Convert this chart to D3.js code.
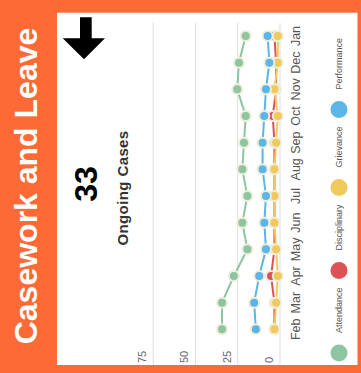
<!DOCTYPE html>
<html>
<head>
<meta charset="utf-8">
<script src="https://cdn.jsdelivr.net/npm/d3@7"></script>
<style>
  html, body { margin: 0; padding: 0; background: #ffffff; }
  svg { display: block; }
  text { font-family: "Liberation Sans", Arial, sans-serif; }
</style>
</head>
<body>
<svg id="chart" width="361" height="373"></svg>
<script>
// Monthly case counts by type
const months = ["Feb", "Mar", "Apr", "May", "Jun", "Jul", "Aug", "Sep", "Oct", "Nov", "Dec", "Jan"];
const attendance   = [34, 34, 27, 19, 22, 19, 22, 21, 20, 25, 24, 20];
const disciplinary = [3, 3, 5, 3, 3, 3, 3, 3, 4, 2, 2, 3];
const grievance    = [3, 2, 1, 2, 3, 3, 3, 2, 1, 3, 1, 1];
const performance  = [14, 15, 12, 8, 9, 8, 10, 10, 9, 8, 6, 7];
const yTicks = [0, 25, 50, 75];

const seriesNames  = ["Attendance", "Disciplinary", "Grievance", "Performance"];
const seriesValues = [attendance, disciplinary, grievance, performance];
const seriesColors = ["#8cc5a0", "#dc5256", "#f0c95c", "#5bb5e6"];

const title = "Casework and Leave";
const kpiValue = "33";
const kpiLabel = "Ongoing Cases";

// The card is laid out as a 373 x 361 tile and turned a quarter-turn
const W = 373, H = 361;
const svg = d3.select("#chart");
const g = svg.append("g").attr("transform", `translate(0,${W}) rotate(-90)`);

// Orange frame and header
g.append("rect").attr("width", W).attr("height", H).attr("fill", "#fe6a36");
g.append("rect").attr("x", 8).attr("y", 57).attr("width", 352.3).attr("height", 300.5).attr("fill", "#ffffff");

g.append("text")
  .attr("x", 187).attr("y", 37)
  .attr("text-anchor", "middle")
  .attr("fill", "#ffffff")
  .attr("font-size", 32).attr("font-weight", "bold")
  .text(title);

// Trend arrow
g.append("path")
  .attr("d", "M355.7,80 L334.7,80 L334.7,62.7 L313.7,84 L334.7,105 L334.7,91.7 L355.7,91.7 Z")
  .attr("fill", "#000000");

// Headline figure
g.append("text")
  .attr("x", 189).attr("y", 97)
  .attr("text-anchor", "middle")
  .attr("fill", "#000000")
  .attr("font-size", 32).attr("font-weight", "bold")
  .text(kpiValue);

g.append("text")
  .attr("x", 185).attr("y", 128)
  .attr("text-anchor", "middle")
  .attr("fill", "#333333")
  .attr("font-size", 15).attr("font-weight", "bold")
  .attr("letter-spacing", 0.4)
  .text(kpiLabel);

// Scales
const x = d3.scalePoint().domain(months).range([43.7, 337]);
const y = d3.scaleLinear().domain([0, 75]).range([279.5, 152.7]);

// Gridlines with labels sitting above each line
const axis = g.append("g")
  .attr("transform", "translate(8,0)")
  .call(d3.axisLeft(y).tickValues(yTicks).tickSize(-342).tickPadding(0));
axis.select(".domain").remove();
axis.selectAll(".tick line").attr("stroke", "#dddddd").attr("stroke-width", 1);
axis.selectAll(".tick text")
  .attr("x", 2).attr("dy", -7)
  .attr("text-anchor", "start")
  .attr("fill", "#666666")
  .attr("font-size", 11)
  .attr("font-family", "Liberation Sans, Arial, sans-serif");

// Month labels
g.append("g").selectAll("text")
  .data(months)
  .join("text")
  .attr("x", d => x(d)).attr("y", 300)
  .attr("text-anchor", "middle")
  .attr("fill", "#555555")
  .attr("font-size", 12.5)
  .text(d => d);

// Lines and points
const line = d3.line().x((d, i) => x(months[i])).y(d => y(d));
seriesValues.forEach((vals, si) => {
  const sg = g.append("g");
  sg.append("path")
    .datum(vals)
    .attr("d", line)
    .attr("fill", "none")
    .attr("stroke", seriesColors[si])
    .attr("stroke-width", 2);
  sg.selectAll("circle")
    .data(vals)
    .join("circle")
    .attr("cx", (d, i) => x(months[i]))
    .attr("cy", d => y(d))
    .attr("r", 5)
    .attr("fill", seriesColors[si])
    .attr("stroke", "#f1ecda")
    .attr("stroke-width", 2);
});

// Legend along the bottom
const legend = g.append("g");
let lx = 20;
seriesNames.forEach((name, i) => {
  legend.append("circle")
    .attr("cx", lx).attr("cy", 339)
    .attr("r", 8.5)
    .attr("fill", seriesColors[i]);
  const t = legend.append("text")
    .attr("x", lx + 20).attr("y", 339)
    .attr("dy", "0.35em")
    .attr("fill", "#555555")
    .attr("font-size", 9)
    .text(name);
  lx += 20 + t.node().getComputedTextLength() + 17;
});
</script>
</body>
</html>
